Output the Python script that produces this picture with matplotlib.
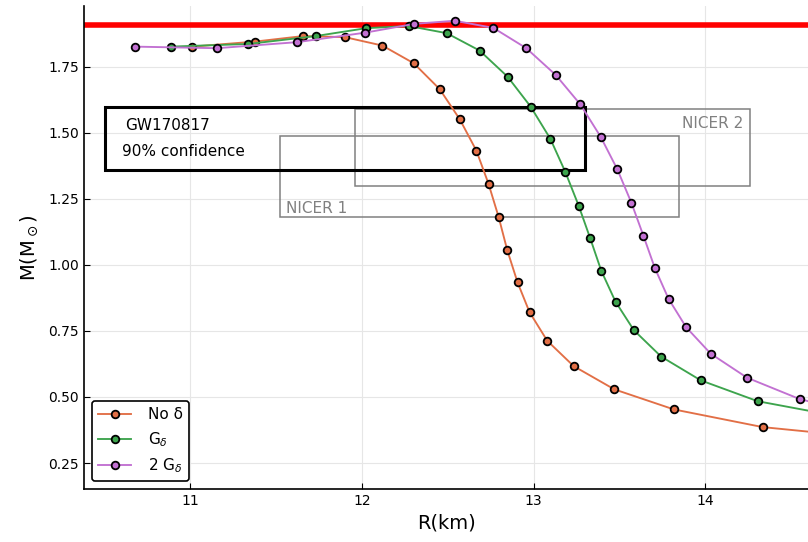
import numpy as np
import matplotlib.pyplot as plt
from matplotlib.patches import Rectangle

# mass-radius curves
r_no = [11.01, 11.376, 11.657, 11.90, 12.119, 12.302, 12.453, 12.570, 12.667, 12.738,
        12.797, 12.847, 12.907, 12.977, 13.080, 13.234, 13.471, 13.818, 14.336, 15.2]
m_no = [1.827, 1.846, 1.867, 1.863, 1.831, 1.764, 1.666, 1.552, 1.433, 1.307,
        1.181, 1.056, 0.934, 0.821, 0.713, 0.617, 0.529, 0.453, 0.386, 0.33]

r_g = [10.885, 11.337, 11.731, 12.026, 12.273, 12.494, 12.686, 12.849, 12.983, 13.098,
       13.185, 13.263, 13.330, 13.395, 13.478, 13.585, 13.744, 13.975, 14.307, 15.0]
m_g = [1.827, 1.837, 1.867, 1.897, 1.905, 1.878, 1.812, 1.713, 1.600, 1.478,
       1.353, 1.225, 1.102, 0.978, 0.861, 0.753, 0.653, 0.563, 0.484, 0.40]

r_2g = [10.677, 11.153, 11.624, 12.020, 12.303, 12.540, 12.766, 12.958, 13.129, 13.273,
        13.391, 13.488, 13.571, 13.641, 13.707, 13.787, 13.890, 14.033, 14.245, 14.552, 15.0]
m_2g = [1.827, 1.821, 1.844, 1.880, 1.913, 1.925, 1.898, 1.821, 1.720, 1.608,
        1.486, 1.363, 1.235, 1.110, 0.989, 0.872, 0.764, 0.664, 0.573, 0.492, 0.42]

m_max_obs = 1.91

# (rmin, rmax, mmin, mmax)
gw_box = (10.50, 13.30, 1.36, 1.60)
nicer1 = (11.52, 13.85, 1.18, 1.49)
nicer2 = (11.96, 14.26, 1.30, 1.59)

fig = plt.figure(figsize=(8.08, 5.42), dpi=100)
ax = fig.add_axes([0.104, 0.098, 0.896, 0.891])

ax.axhline(m_max_obs, color='red', lw=4, zorder=2)

def box(b, color, lw):
    ax.add_patch(Rectangle((b[0], b[2]), b[1] - b[0], b[3] - b[2], fill=False,
                           edgecolor=color, lw=lw, zorder=2))

box(nicer1, 'gray', 1.1)
box(nicer2, 'gray', 1.1)
box(gw_box, 'black', 2.2)

ax.text(10.62, 1.53, 'GW170817', fontsize=11, va='center', zorder=3)
ax.text(10.60, 1.43, '90% confidence', fontsize=11, va='center', zorder=3)
ax.text(11.56, 1.215, 'NICER 1', fontsize=11, color='gray', va='center', zorder=3)
ax.text(14.22, 1.535, 'NICER 2', fontsize=11, color='gray', va='center', ha='right', zorder=3)

kw = dict(marker='o', ms=5.5, mec='black', mew=1.3, lw=1.35, zorder=4)
ax.plot(r_no, m_no, color='#E26F46', label='No δ', **kw)
ax.plot(r_g, m_g, color='#3DA44D', label=r'G$_\delta$', **kw)
ax.plot(r_2g, m_2g, color='#C271D2', label=r'2 G$_\delta$', **kw)

ax.set_xlim(10.38, 14.60)
ax.set_ylim(0.152, 1.981)
ax.set_xticks([11, 12, 13, 14])
ax.set_yticks([0.25, 0.50, 0.75, 1.00, 1.25, 1.50, 1.75])
ax.set_yticklabels(['0.25', '0.50', '0.75', '1.00', '1.25', '1.50', '1.75'])
ax.grid(True, color='#e6e6e6', lw=0.8)
ax.set_axisbelow(True)
for s in ['top', 'right']:
    ax.spines[s].set_visible(False)
for s in ['left', 'bottom']:
    ax.spines[s].set_linewidth(1.2)
ax.tick_params(direction='in', labelsize=10, length=4)
ax.set_xlabel('R(km)', fontsize=14)
ax.set_ylabel(r'M(M$_\odot$)', fontsize=14, labelpad=6)

leg = ax.legend(loc='lower left', fontsize=11, frameon=True, fancybox=True,
                edgecolor='black', framealpha=1, borderaxespad=0.5, handlelength=2.2,
                handletextpad=1.1)
leg.get_frame().set_linewidth(1.2)

fig.savefig('out.png', dpi=100)
